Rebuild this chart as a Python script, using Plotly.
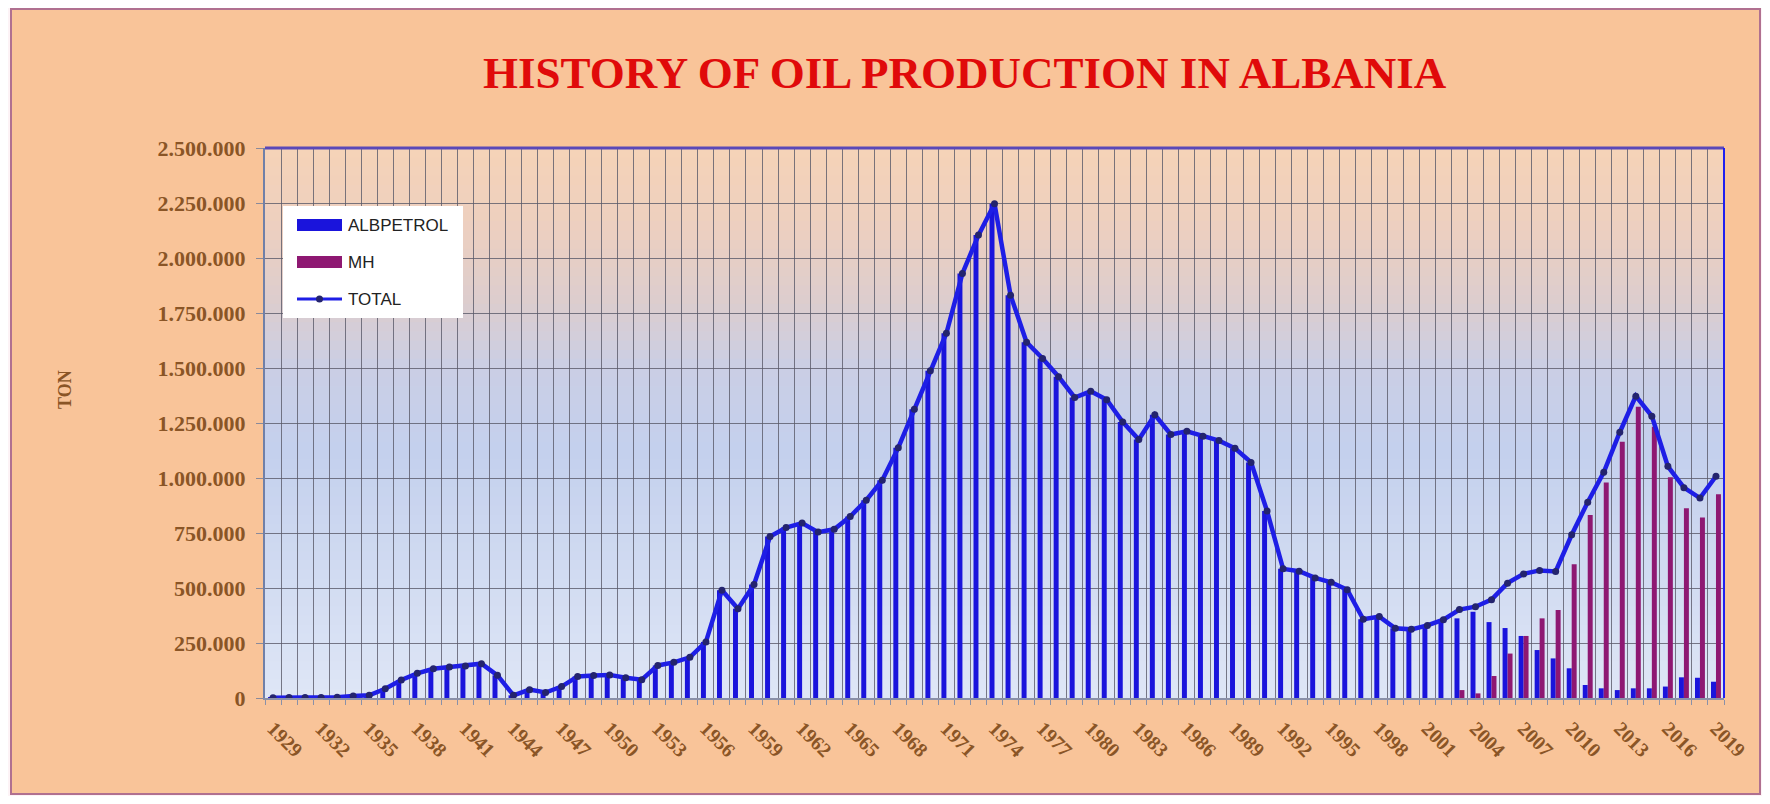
import plotly.graph_objects as go

years = list(range(1929, 2020))

total = [
    1500, 2000, 2000, 2000, 3000, 9000, 12000, 42000, 82000, 112000,
    133000, 141000, 146000, 156000, 103000, 12000, 38000, 25000, 52000, 98000,
    102000, 105000, 92000, 83000, 148000, 162000, 185000, 255000, 490000, 406000,
    516000, 734000, 775000, 795000, 754000, 767000, 825000, 899000, 990000, 1138000,
    1312000, 1488000, 1658000, 1930000, 2104000, 2247000, 1831000, 1617000, 1543000, 1460000,
    1366000, 1394000, 1356000, 1254000, 1175000, 1287000, 1198000, 1212000, 1190000, 1170000,
    1135000, 1071000, 850000, 587000, 576000, 546000, 526000, 492000, 358000, 370000,
    317000, 312000, 330000, 356000, 402000, 415000, 447000, 522000, 564000, 580000,
    575000, 742000, 890000, 1026000, 1208000, 1372000, 1281000, 1053000, 956000, 909000,
    1008000,
]

albpetrol = [
    1500, 2000, 2000, 2000, 3000, 9000, 12000, 42000, 82000, 112000,
    133000, 141000, 146000, 156000, 103000, 12000, 38000, 25000, 52000, 98000,
    102000, 105000, 92000, 83000, 148000, 162000, 185000, 255000, 490000, 406000,
    516000, 734000, 775000, 795000, 754000, 767000, 825000, 899000, 990000, 1138000,
    1312000, 1488000, 1658000, 1930000, 2104000, 2247000, 1831000, 1617000, 1543000, 1460000,
    1366000, 1394000, 1356000, 1254000, 1175000, 1287000, 1198000, 1212000, 1190000, 1170000,
    1135000, 1071000, 850000, 587000, 576000, 546000, 526000, 492000, 358000, 370000,
    317000, 312000, 330000, 352000, 362000, 392000, 345000, 318000, 282000, 218000,
    180000, 135000, 59000, 44000, 36000, 44000, 44000, 52000, 94000, 92000,
    74000,
]

mh = [
    0, 0, 0, 0, 0, 0, 0, 0, 0, 0,
    0, 0, 0, 0, 0, 0, 0, 0, 0, 0,
    0, 0, 0, 0, 0, 0, 0, 0, 0, 0,
    0, 0, 0, 0, 0, 0, 0, 0, 0, 0,
    0, 0, 0, 0, 0, 0, 0, 0, 0, 0,
    0, 0, 0, 0, 0, 0, 0, 0, 0, 0,
    0, 0, 0, 0, 0, 0, 0, 0, 0, 0,
    0, 0, 0, 0, 36000, 21000, 100000, 202000, 282000, 362000,
    400000, 608000, 832000, 979000, 1165000, 1324000, 1233000, 1003000, 862000, 821000,
    926000,
]

tick_years = [1929, 1932, 1935, 1938, 1941, 1944, 1947, 1950, 1953, 1956, 1959,
              1962, 1965, 1968, 1971, 1974, 1977, 1980, 1983, 1986, 1989, 1992,
              1995, 1998, 2001, 2004, 2007, 2010, 2013, 2016, 2019]
tick_labels = [str(y) for y in tick_years]

series_names = ["ALBPETROL", "MH", "TOTAL"]
title_text = "HISTORY OF OIL PRODUCTION IN ALBANIA"
y_title = "TON"

# ---- styles / page geometry (page pixels; the page body has an 8px margin) ----
OFF = 8
PAGE_W, PAGE_H = 1770, 804
W, H = PAGE_W - 2 * OFF, PAGE_H - 2 * OFF
PL, PR, PT, PB = 265, 1724, 148, 698
BLUE = "#1A14DC"
PURPLE = "#8E1872"
LINE = "#1E1EE6"
MARK = "#24246E"
BROWN = "#8A5526"
PEACH = "#F9C499"
GRID = "rgba(90,90,105,0.8)"

def px_x(x):
    return (x - PL) / (PR - PL)

def px_y(y):
    return (PB - y) / (PB - PT)

fig = go.Figure()
fig.add_trace(go.Bar(x=years, y=albpetrol, name=series_names[0], marker=dict(color=BLUE, line=dict(width=0))))
fig.add_trace(go.Bar(x=years, y=mh, name=series_names[1], marker=dict(color=PURPLE, line=dict(width=0))))
fig.add_trace(go.Scatter(x=years, y=total, name=series_names[2], mode="lines+markers",
                         line=dict(color=LINE, width=4.5),
                         marker=dict(color=MARK, size=7)))

shapes = []
# outer frame
shapes.append(dict(type="rect", xref="paper", yref="paper",
                   x0=px_x(11), x1=px_x(1760), y0=px_y(794), y1=px_y(9),
                   fillcolor=PEACH, line=dict(color="#B07090", width=2), layer="below"))

# plot-area gradient (bands)
stops = [(0.0, (222, 230, 246)), (0.45, (196, 208, 237)), (0.6, (202, 206, 229)),
         (0.72, (220, 205, 206)), (0.85, (236, 207, 192)), (1.0, (246, 211, 183))]

def grad(t):
    for i in range(len(stops) - 1):
        a, ca = stops[i]
        b, cb = stops[i + 1]
        if a <= t <= b:
            f = (t - a) / (b - a)
            return tuple(int(round(ca[k] + (cb[k] - ca[k]) * f)) for k in range(3))
    return stops[-1][1]

NB = 60
for i in range(NB):
    t0 = i / NB
    t1 = (i + 1) / NB
    c = grad((t0 + t1) / 2)
    shapes.append(dict(type="rect", xref="paper", yref="paper", x0=0, x1=1, y0=t0, y1=t1 + 0.002,
                       fillcolor="rgb(%d,%d,%d)" % c, line=dict(width=0), layer="below"))

# plot borders
shapes.append(dict(type="line", xref="paper", yref="paper", x0=0, x1=1, y0=1, y1=1,
                   line=dict(color="#5A48B8", width=3), layer="above"))
shapes.append(dict(type="line", xref="paper", yref="paper", x0=1, x1=1, y0=0, y1=1,
                   line=dict(color="#2020F0", width=2), layer="above"))

# custom legend
shapes.append(dict(type="rect", xref="paper", yref="paper",
                   x0=px_x(283), x1=px_x(463), y0=px_y(318), y1=px_y(206),
                   fillcolor="white", line=dict(width=0), layer="above"))
leg_rows = [225, 262, 299]
shapes.append(dict(type="rect", xref="paper", yref="paper",
                   x0=px_x(297), x1=px_x(342), y0=px_y(leg_rows[0] + 6), y1=px_y(leg_rows[0] - 6),
                   fillcolor=BLUE, line=dict(width=0), layer="above"))
shapes.append(dict(type="rect", xref="paper", yref="paper",
                   x0=px_x(297), x1=px_x(342), y0=px_y(leg_rows[1] + 6), y1=px_y(leg_rows[1] - 6),
                   fillcolor=PURPLE, line=dict(width=0), layer="above"))
shapes.append(dict(type="line", xref="paper", yref="paper",
                   x0=px_x(297), x1=px_x(342), y0=px_y(leg_rows[2]), y1=px_y(leg_rows[2]),
                   line=dict(color=LINE, width=3), layer="above"))
shapes.append(dict(type="circle", xref="paper", yref="paper",
                   x0=px_x(316), x1=px_x(323), y0=px_y(leg_rows[2] + 3.5), y1=px_y(leg_rows[2] - 3.5),
                   fillcolor=MARK, line=dict(width=0), layer="above"))

annotations = []
for name, row in zip(series_names, leg_rows):
    annotations.append(dict(text=name, xref="paper", yref="paper", x=px_x(346), y=px_y(row),
                            xanchor="left", yanchor="middle", showarrow=False,
                            font=dict(family="Liberation Sans", size=17, color="#222222")))
annotations.append(dict(text=title_text, xref="paper", yref="paper", x=px_x(965), y=px_y(73),
                        xanchor="center", yanchor="middle", showarrow=False,
                        font=dict(family="Liberation Serif", size=45, color="#E00A0A", weight="bold")))
annotations.append(dict(text=y_title, xref="paper", yref="paper", x=px_x(65), y=px_y(390),
                        xanchor="center", yanchor="middle", showarrow=False, textangle=-90,
                        font=dict(family="Liberation Serif", size=18, color=BROWN, weight="bold")))

fig.update_layout(
    width=W, height=H,
    margin=dict(l=PL - OFF, r=W - (PR - OFF), t=PT - OFF, b=H - (PB - OFF), autoexpand=False),
    paper_bgcolor="#FDF3F6",
    plot_bgcolor="rgba(0,0,0,0)",
    barmode="group", bargap=0.38, bargroupgap=0.0,
    showlegend=False,
    separators=",.",
    shapes=shapes,
    annotations=annotations,
    xaxis=dict(
        type="linear", range=[1928.5, 2019.5],
        tickmode="array", tickvals=tick_years, ticktext=tick_labels,
        tickangle=45, showgrid=False, zeroline=False,
        ticks="", ticklabelstandoff=9,
        tickfont=dict(family="Liberation Serif", size=20, color=BROWN, weight="bold"),
        showline=True, linecolor="#8A90A8", linewidth=2,
        minor=dict(tickmode="linear", tick0=1928.5, dtick=1, showgrid=True,
                   gridcolor=GRID, gridwidth=1, ticks="outside", ticklen=5, tickcolor="#8A90A8"),
    ),
    yaxis=dict(
        range=[0, 2500000], dtick=250000, tickformat=",",
        showgrid=True, gridcolor=GRID, gridwidth=1, zeroline=False,
        ticks="outside", ticklen=7, tickcolor="#8A8A9A", ticklabelstandoff=6,
        tickfont=dict(family="Liberation Serif", size=22, color=BROWN, weight="bold"),
        showline=True, linecolor="#7080A8", linewidth=2,
    ),
)

fig.write_html("out.html")
